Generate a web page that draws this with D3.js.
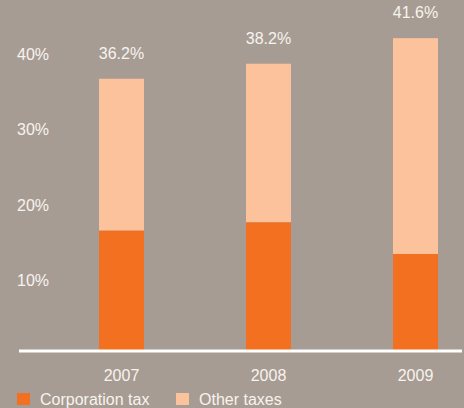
<!DOCTYPE html>
<html><head><meta charset="utf-8">
<script src="https://cdn.jsdelivr.net/npm/d3@7"></script>
<style>html,body{margin:0;padding:0;background:#a79c93;}svg{display:block;}</style>
</head><body>
<script>
const years = ["2007", "2008", "2009"];
const corporationTax = [16.0, 17.1, 12.9];
const totalTax = [36.2, 38.2, 41.6];
const totalLabels = ["36.2%", "38.2%", "41.6%"];
const yTicks = [10, 20, 30, 40];
const seriesNames = ["Corporation tax", "Other taxes"];

const W = 464, H = 408;
const colors = {bg: "#a79c93", corp: "#f37021", other: "#fcc29b", text: "#f7f3ef"};
const font = "'Liberation Sans', Arial, Helvetica, sans-serif";

const svg = d3.select("body").append("svg").attr("width", W).attr("height", H);
svg.append("rect").attr("width", W).attr("height", H).attr("fill", colors.bg);

const x = d3.scaleBand().domain(years).range([48, 489]).paddingInner(0.694).paddingOuter(0.347);
const y = d3.scaleLinear().domain([0, 45]).range([351, 351 - 45 * 7.52]);

// y tick labels
svg.append("g").selectAll("text").data(yTicks).join("text")
  .attr("x", 17).attr("y", d => y(d) + 10)
  .attr("fill", colors.text).attr("font-family", font).attr("font-size", 16)
  .text(d => d + "%");

const data = years.map((yr, i) => ({year: yr, corp: corporationTax[i], total: totalTax[i], label: totalLabels[i]}));

// other taxes (stacked on top)
svg.append("g").selectAll("rect").data(data).join("rect")
  .attr("x", d => x(d.year)).attr("width", x.bandwidth())
  .attr("y", d => y(d.total)).attr("height", d => y(d.corp) - y(d.total))
  .attr("fill", colors.other);
// corporation tax
svg.append("g").selectAll("rect").data(data).join("rect")
  .attr("x", d => x(d.year)).attr("width", x.bandwidth())
  .attr("y", d => y(d.corp)).attr("height", d => y(0) - y(d.corp))
  .attr("fill", colors.corp);

// total labels
svg.append("g").selectAll("text").data(data).join("text")
  .attr("x", d => x(d.year) + x.bandwidth() / 2).attr("y", d => y(d.total) - 20)
  .attr("text-anchor", "middle").attr("fill", colors.text)
  .attr("font-family", font).attr("font-size", 16).text(d => d.label);

// axis line
svg.append("line").attr("x1", 19).attr("x2", 462).attr("y1", y(0)).attr("y2", y(0))
  .attr("stroke", "#ffffff").attr("stroke-width", 3);

// x labels
svg.append("g").selectAll("text").data(years).join("text")
  .attr("x", d => x(d) + x.bandwidth() / 2).attr("y", 381)
  .attr("text-anchor", "middle").attr("fill", colors.text)
  .attr("font-family", font).attr("font-size", 16).text(d => d);

// legend
const legendX = [17, 176];
const legendColors = [colors.corp, colors.other];
const lg = svg.append("g").selectAll("g").data(seriesNames).join("g")
  .attr("transform", (d, i) => `translate(${legendX[i]},0)`);
lg.append("rect").attr("x", 0).attr("y", 393).attr("width", 13).attr("height", 12)
  .attr("fill", (d, i) => legendColors[i]);
lg.append("text").attr("x", 23).attr("y", 405).attr("fill", colors.text)
  .attr("font-family", font).attr("font-size", 16).text(d => d);
</script>
</body></html>
